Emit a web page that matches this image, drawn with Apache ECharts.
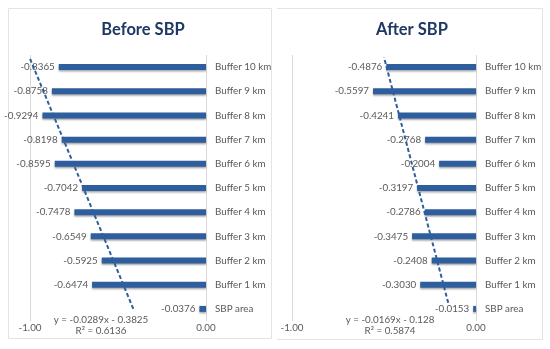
<!DOCTYPE html>
<html>
<head>
<meta charset="utf-8">
<script src="https://cdn.jsdelivr.net/npm/echarts@6/dist/echarts.min.js"></script>
<style>html,body{margin:0;padding:0;background:#fff}#c{width:550px;height:349px}</style>
</head>
<body>
<div id="c"></div>
<script>
const categories = ['SBP area','Buffer 1 km','Buffer 2 km','Buffer 3 km','Buffer 4 km','Buffer 5 km','Buffer 6 km','Buffer 7 km','Buffer 8 km','Buffer 9 km','Buffer 10 km'];
const beforeValues = [-0.0376,-0.6474,-0.5925,-0.6549,-0.7478,-0.7042,-0.8595,-0.8198,-0.9294,-0.8758,-0.8365];
const afterValues  = [-0.0153,-0.3030,-0.2408,-0.3475,-0.2786,-0.3197,-0.2004,-0.2768,-0.4241,-0.5597,-0.4876];
// trend line endpoints as drawn: [value, category position (1 = SBP area)]
const beforeTrend = [[-0.413, 1.0], [-1.0, 11.35]];
const afterTrend  = [[-0.151, 1.25], [-0.50, 11.41]];
const xTicks = [-1, 0];
const titles = ['Before SBP', 'After SBP'];
const equations = [['y = -0.0289x - 0.3825', 'R² = 0.6136'], ['y = -0.0169x - 0.128', 'R² = 0.5874']];

const FONT = 'Lato, "Liberation Sans", sans-serif';
const BLUE = '#2F5E9E';
const GRAY = '#595959';
const FS = 9.8;

const chart = echarts.init(document.getElementById('c'), null, {renderer: 'canvas'});
const grids = [
  {left: 30, width: 176, top: 55, height: 266},
  {left: 292, width: 184, top: 55, height: 266}
];
function xAxisFor(i) {
  return {
    type: 'value', gridIndex: i, min: xTicks[0], max: xTicks[1], interval: 1,
    axisLine: {show: false}, axisTick: {show: false},
    axisLabel: {formatter: v => v.toFixed(2), color: GRAY, fontSize: FS, fontFamily: FONT, margin: 2},
    splitLine: {show: true, lineStyle: {color: '#D9D9D9', width: 1}}
  };
}
function catAxis(i) {
  return {
    type: 'category', gridIndex: i, data: categories, position: 'right',
    axisLine: {show: false}, axisTick: {show: false},
    axisLabel: {color: GRAY, fontSize: FS, fontFamily: FONT, margin: 9}
  };
}
function trendAxis(i) {
  return {type: 'value', gridIndex: i, min: 0.5, max: 11.5, show: false};
}
function barSeries(i, vals) {
  return {
    type: 'bar', xAxisIndex: i, yAxisIndex: i * 2, data: vals, barWidth: 6,
    itemStyle: {color: BLUE, shadowColor: 'rgba(0,0,0,0.35)', shadowBlur: 2, shadowOffsetY: 1.5},
    label: {show: true, position: 'left', distance: 4, formatter: p => p.value.toFixed(4), color: GRAY, fontSize: FS, fontFamily: FONT},
    silent: true, z: 2
  };
}
function trendSeries(i, pts) {
  return {
    type: 'line', xAxisIndex: i, yAxisIndex: i * 2 + 1, data: pts, symbol: 'none',
    lineStyle: {color: BLUE, width: 2, type: [4, 2.5]}, silent: true, z: 5
  };
}
const eqX = [101, 390];
const graphics = [
  {type: 'rect', shape: {x: 8.5, y: 8.5, width: 263, height: 330}, style: {fill: 'none', stroke: '#E3E3E3', lineWidth: 1}, silent: true},
  {type: 'polyline', shape: {points: [[277, 8.5], [542.5, 8.5], [542.5, 339.5], [277, 339.5]]}, style: {fill: 'none', stroke: '#E3E3E3', lineWidth: 1}, silent: true}
];
equations.forEach((eq, i) => {
  eq.forEach((t, j) => {
    graphics.push({type: 'text', x: eqX[i], y: 320 + j * 11, style: {text: t, fill: GRAY, font: FS + 'px ' + FONT, textAlign: 'center', textVerticalAlign: 'middle'}, silent: true, z: 10});
  });
});

chart.setOption({
  animation: false,
  title: [
    {text: titles[0], left: 138, top: 16, textAlign: 'center', textStyle: {fontSize: 16.5, fontWeight: 'bold', color: '#1F3864', fontFamily: FONT}},
    {text: titles[1], left: 407, top: 16, textAlign: 'center', textStyle: {fontSize: 16.5, fontWeight: 'bold', color: '#1F3864', fontFamily: FONT}}
  ],
  grid: grids,
  xAxis: [xAxisFor(0), xAxisFor(1)],
  yAxis: [catAxis(0), trendAxis(0), catAxis(1), trendAxis(1)],
  series: [barSeries(0, beforeValues), trendSeries(0, beforeTrend), barSeries(1, afterValues), trendSeries(1, afterTrend)],
  graphic: graphics
});
</script>
</body>
</html>
